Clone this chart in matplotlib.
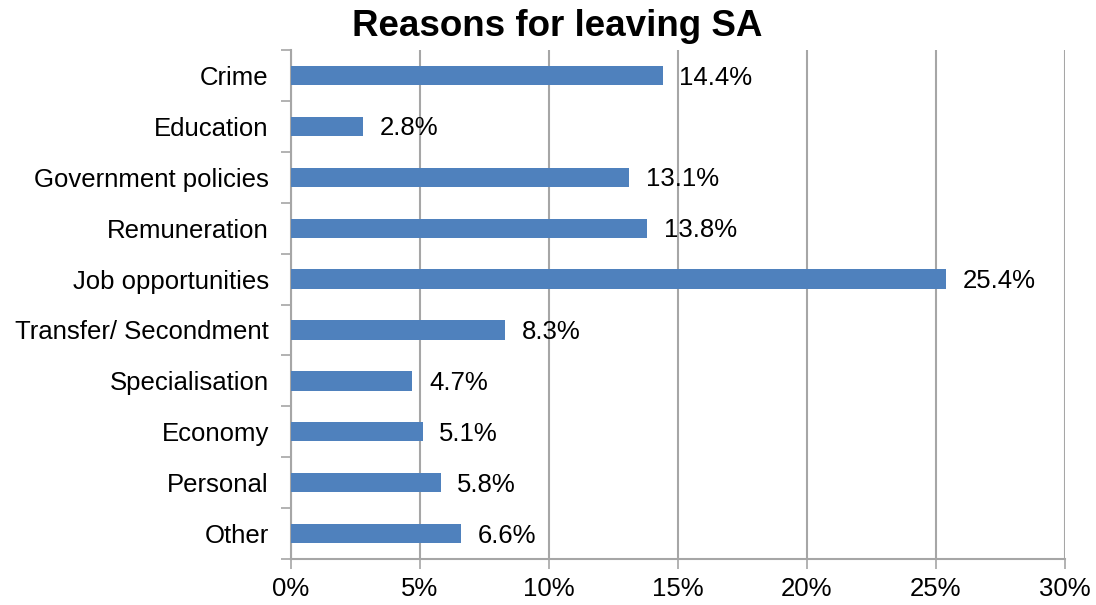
import matplotlib.pyplot as plt
import numpy as np

# Data:
reasons = ['Crime', 'Education', 'Government policies', 'Remuneration',
           'Job opportunities', 'Transfer/ Secondment', 'Specialisation',
           'Economy', 'Personal', 'Other']
share_pct = [14.4, 2.8, 13.1, 13.8, 25.4, 8.3, 4.7, 5.1, 5.8, 6.6]
x_ticks_pct = [0, 5, 10, 15, 20, 25, 30]

plt.rcParams['font.family'] = ['Liberation Sans', 'DejaVu Sans']

bar_colour = '#4F81BD'
grid_colour = '#A6A6A6'

fig = plt.figure(figsize=(10.96, 6.05), dpi=100)
ax = fig.add_axes([0.2655, 0.076, 0.7062, 0.8413])

y_pos = np.arange(len(reasons))
ax.barh(y_pos, share_pct, height=0.38, color=bar_colour, zorder=3)

# Value labels to the right of the bars:
for y, v in zip(y_pos, share_pct):
    ax.annotate(f'{v:.1f}%', xy=(v, y), xytext=(12, -1.5),
                textcoords='offset points', va='center', ha='left',
                fontsize=18.5, color='black')

ax.set_xlim(0, 30)
ax.set_ylim(len(reasons) - 0.5, -0.5)
ax.set_xticks(x_ticks_pct)
ax.set_xticklabels([f'{t}%' for t in x_ticks_pct])
ax.set_yticks(y_pos)
ax.set_yticklabels(reasons)
ax.set_yticks(np.arange(len(reasons) + 1) - 0.5, minor=True)

ax.tick_params(axis='y', which='major', length=0, pad=16, labelsize=18.5)
ax.tick_params(axis='y', which='minor', length=7, width=1.2,
               color=grid_colour)
ax.tick_params(axis='x', which='major', length=7, width=1.2,
               color=grid_colour, pad=6, labelsize=18.5)

ax.grid(axis='x', color=grid_colour, linewidth=1.5, zorder=0)
for side in ['top', 'right']:
    ax.spines[side].set_visible(False)
for side in ['left', 'bottom']:
    ax.spines[side].set_color(grid_colour)
    ax.spines[side].set_linewidth(1.5)

fig.suptitle('Reasons for leaving SA', fontsize=26.5, fontweight='bold',
             x=0.508, y=0.985, va='top')

fig.savefig('out.png', dpi=100)
